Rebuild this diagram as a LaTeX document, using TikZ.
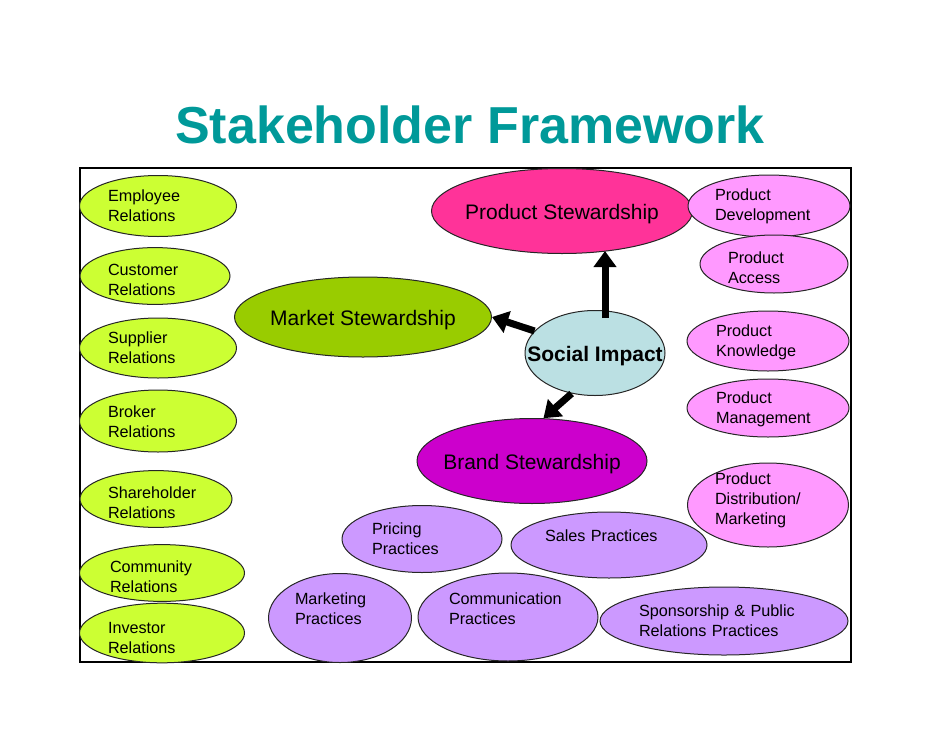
\documentclass[tikz,border=0pt]{standalone}
\usepackage{fontspec}
\setmainfont{Liberation Sans}
\usepackage{xcolor}
\usepackage{tikz}
\usetikzlibrary{arrows.meta,shapes.geometric,calc}

\definecolor{titleteal}{RGB}{0,153,153}
\definecolor{relgreen}{RGB}{204,255,51}
\definecolor{mktgreen}{RGB}{153,204,0}
\definecolor{prodpink}{RGB}{255,51,153}
\definecolor{prodlight}{RGB}{255,153,255}
\definecolor{socblue}{RGB}{187,224,227}
\definecolor{brandmag}{RGB}{204,0,204}
\definecolor{praclilac}{RGB}{204,153,255}

\newcommand\ovaltext{\fontsize{8.1}{10}\selectfont}
\newcommand\hubtext{\fontsize{10.5}{12}\selectfont}
\newcommand\hub[1]{\makebox[0pt]{#1}}

\begin{document}
\begin{tikzpicture}[
  x=0.5pt, y=-0.5pt,
  oval/.style={ellipse, draw=black!85, line width=0.5pt, inner sep=0pt},
  rel/.style={oval, fill=relgreen, font=\ovaltext, align=left},
  prodsub/.style={oval, fill=prodlight, font=\ovaltext, align=left},
  prac/.style={oval, fill=praclilac, font=\ovaltext, align=left},
  hubnode/.style={oval, font=\hubtext, text height=10.5pt, text depth=2.2pt},
  arr/.style={-{Triangle[length=8pt,width=11pt]}, line width=3.5pt}
]
  \useasboundingbox (0,0) rectangle (942,728);

  \node[font=\fontsize{26}{30}\selectfont\bfseries, text=titleteal] (title) at (470,125) {Stakeholder Framework};
  \draw[line width=0.6pt] (80,168) rectangle (851,662);

  % relations column
  \node[rel, minimum width=78.5pt, minimum height=30.5pt, text width=50pt] (emp) at (158,206) {Employee\\Relations};
  \node[rel, minimum width=75pt, minimum height=26.5pt, text width=47pt, text height=10pt] (cust) at (155,276) {Customer\\Relations};
  \node[rel, minimum width=78.5pt, minimum height=30pt, text width=50pt] (supp) at (158,348) {Supplier\\Relations};
  \node[rel, minimum width=78.5pt, minimum height=31pt, text width=50pt, text height=7pt] (brok) at (158,421) {Broker\\Relations};
  \node[rel, minimum width=76pt, minimum height=27pt, text width=48pt, text height=10pt] (share) at (156,499) {Shareholder\\Relations};
  \node[rel, minimum width=82.5pt, minimum height=27pt, text width=52pt, text height=10pt] (comm) at (162,573) {Community\\Relations};
  \node[rel, minimum width=82.5pt, minimum height=26.5pt, text width=54pt, text height=11pt] (inv) at (162,633) {Investor\\Relations};

  % stewardship hubs
  \node[hubnode, fill=prodpink, minimum width=130.5pt, minimum height=42.5pt] (prod) at (562,211) {\hub{Product Stewardship}};
  \node[hubnode, fill=mktgreen, minimum width=128.5pt, minimum height=40pt] (mkt) at (363,317) {\hub{Market Stewardship}};
  \node[hubnode, fill=socblue, minimum width=70pt, minimum height=42.5pt] (soc) at (595,353) {\hub{\bfseries Social Impact}};
  \node[hubnode, fill=brandmag, minimum width=115pt, minimum height=42.5pt] (brand) at (532,461) {\hub{Brand Stewardship}};

  % product column
  \node[prodsub, minimum width=81pt, minimum height=31pt, text width=54pt] (pdev) at (769,206) {Product\\Development};
  \node[prodsub, minimum width=74pt, minimum height=29pt, text width=46pt, text height=10pt] (pacc) at (774,264) {Product\\Access};
  \node[prodsub, minimum width=81pt, minimum height=30pt, text width=52pt, text height=7pt] (pknow) at (768,341) {Product\\Knowledge};
  \node[prodsub, minimum width=81pt, minimum height=29pt, text width=52pt, text height=7pt] (pmgmt) at (768,408) {Product\\Management};
  \node[prodsub, minimum width=80.5pt, minimum height=42pt, text width=53pt, text height=1pt] (pdist) at (768,505) {Product\\Distribution/\\Marketing};

  % brand practices
  \node[prac, minimum width=80pt, minimum height=33.5pt, text width=50pt] (price) at (422,539) {Pricing\\Practices};
  \node[prac, minimum width=98pt, minimum height=33pt, text width=64pt, text height=6pt, text depth=10pt] (sales) at (609,545) {Sales Practices};
  \node[prac, minimum width=71.5pt, minimum height=44.5pt, text width=45pt, text height=6pt, text depth=20pt] (mktp) at (340,618) {Marketing\\Practices};
  \node[prac, minimum width=90pt, minimum height=44pt, text width=59pt, text height=6pt, text depth=19pt] (commp) at (508,617) {Communication\\Practices};
  \node[prac, minimum width=124pt, minimum height=34pt, text width=85pt] (spons) at (724,621) {Sponsorship \& Public\\Relations Practices};

  \draw[arr] ($(soc.north)+(5pt,-4pt)$) -- ($(soc.north |- prod.south)+(5pt,1.5pt)$);
  \draw[arr] (soc.160) -- (mkt.east);
  \draw[arr] (soc.240) -- (brand.75);
\end{tikzpicture}
\end{document}
